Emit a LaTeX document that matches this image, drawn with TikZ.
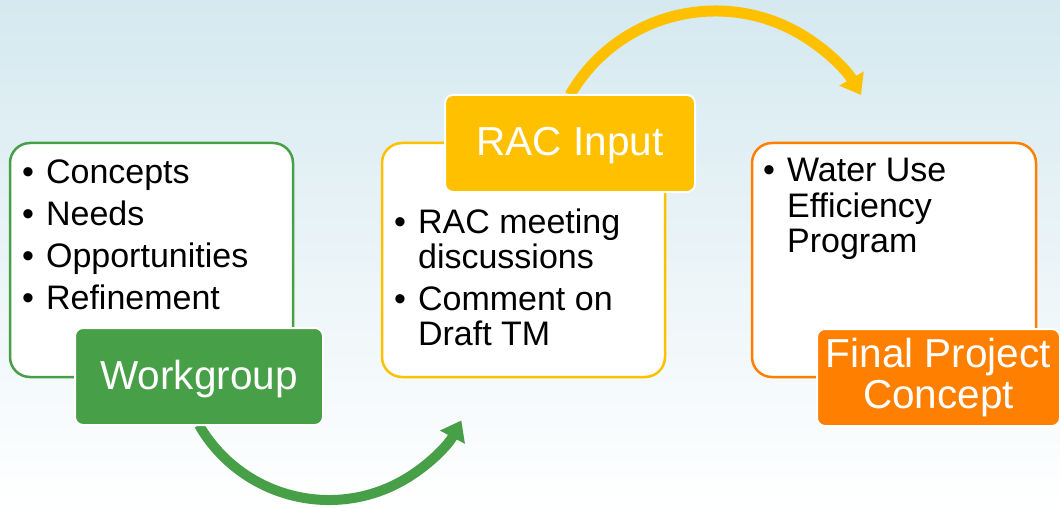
\documentclass[tikz,border=0pt]{standalone}
\usepackage{fontspec}
\setmainfont{Liberation Sans}
\usetikzlibrary{arrows.meta}

\definecolor{wggreen}{RGB}{71,160,71}
\definecolor{racyellow}{RGB}{255,192,0}
\definecolor{fporange}{RGB}{255,128,0}
\definecolor{bgtop}{RGB}{213,233,240}

\newcommand{\listfont}{\fontsize{34}{35}\selectfont}
\newcommand{\labelfont}{\fontsize{40.5}{41}\selectfont}

\begin{document}
\begin{tikzpicture}[x=1pt,y=-1pt]
	\tikzset{contentbox/.style={draw,line width=2.5pt,fill=white,rounded corners=20pt,
		minimum width=283pt,minimum height=234pt,inner sep=0pt}}
	\tikzset{stagelabel/.style={draw=white,line width=2pt,rounded corners=8pt,text=white,
		minimum width=248pt,minimum height=97pt,inner sep=0pt,font=\labelfont,align=center}}
	\tikzset{listtext/.style={anchor=base west,inner sep=0pt,font=\listfont}}
	\tikzset{flowarrow/.style={line width=10pt,-{Triangle[length=19pt,width=27pt]}}}

	\useasboundingbox (0,0) rectangle (1060,508);
	\clip (0,0) rectangle (1060,508);
	% background
	\fill[top color=bgtop,bottom color=white] (0,0) rectangle (1060,508);

	\node[contentbox,draw=wggreen] (wgbox) at (151.5,260) {};
	\node[listtext] (wgtext) at (22,183) {\begin{tabular}[t]{@{}l@{\hspace{12pt}}l@{}}
		\textbullet & Concepts\\[7pt]
		\textbullet & Needs\\[7pt]
		\textbullet & Opportunities\\[7pt]
		\textbullet & Refinement
	\end{tabular}};

	\node[contentbox,draw=racyellow] (racbox) at (523.5,260) {};
	\node[listtext] (ractext) at (394,233) {\begin{tabular}[t]{@{}l@{\hspace{12pt}}l@{}}
		\textbullet & RAC meeting\\
		 & discussions\\[7pt]
		\textbullet & Comment on\\
		 & Draft TM
	\end{tabular}};

	\node[contentbox,draw=fporange,minimum width=284pt] (fpbox) at (894,260) {};
	\node[listtext] (fptext) at (763,182) {\begin{tabular}[t]{@{}l@{\hspace{12pt}}l@{}}
		\textbullet & Water Use\\
		 & Efficiency\\
		 & Program
	\end{tabular}};

	\draw[flowarrow,wggreen] (199,425) arc[start angle=150,end angle=28,radius=150];
	\draw[flowarrow,racyellow,line width=11pt] (570,95) arc[start angle=210,end angle=330,radius=168];

	\node[stagelabel,fill=wggreen,text height=32pt,text depth=7pt] (wg) at (199,376.5) {Workgroup};
	\node[stagelabel,fill=racyellow,minimum width=250pt,text height=32pt,text depth=7pt] (rac) at (570,143.5) {RAC Input};
	\node[stagelabel,fill=fporange,minimum width=243pt] (fp) at (938.5,377.5) {Final Project\\Concept};

\end{tikzpicture}
\end{document}
